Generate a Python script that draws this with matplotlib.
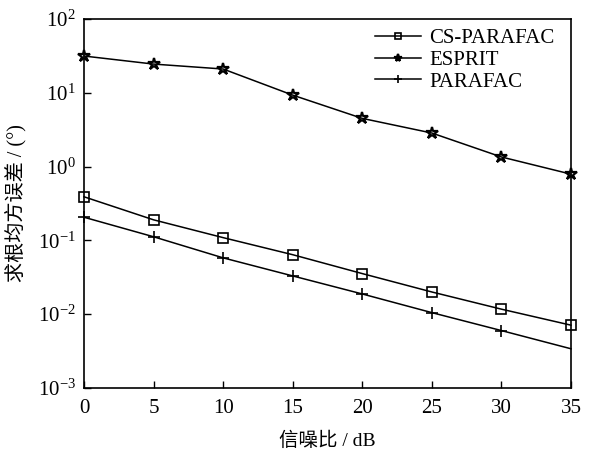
import numpy as np
import matplotlib.pyplot as plt

plt.rcParams['font.family'] = ['Liberation Serif', 'Noto Sans CJK SC']
plt.rcParams['mathtext.fontset'] = 'stix'

snr = [0, 5, 10, 15, 20, 25, 30, 35]
cs_parafac = [0.39, 0.19, 0.109, 0.064, 0.0355, 0.020, 0.0117, 0.0071]
esprit = [31.5, 24.5, 21.0, 9.3, 4.5, 2.85, 1.35, 0.79]
parafac = [0.206, 0.112, 0.058, 0.033, 0.0188, 0.0105, 0.006, 0.0034]

fig = plt.figure(figsize=(5.9, 4.57), dpi=100)
ax = fig.add_axes([84 / 590, 1 - 388 / 457, 487 / 590, 369 / 457])

ax.semilogy(snr, cs_parafac, 'k-', marker='s', ms=7, mfc='none', mew=1.2, lw=1.1,
            label='CS-PARAFAC', clip_on=False)
ax.semilogy(snr, esprit, 'k-', marker='*', ms=9, mfc='none', mew=1.6, lw=1.1,
            label='ESPRIT', clip_on=False)
ax.semilogy(snr, parafac, 'k-', marker='+', ms=9, mew=1.2, lw=1.1,
            markevery=slice(0, 7), label='PARAFAC', clip_on=False)

ax.set_xlim(0, 35)
ax.set_ylim(1e-3, 1e2)
ax.set_xticks(snr)
ax.set_yticks([1e-3, 1e-2, 1e-1, 1e0, 1e1, 1e2])
ax.minorticks_off()
ax.tick_params(direction='in', length=5, width=1.0, labelsize=15,
               top=False, right=False)
ax.tick_params(axis='x', pad=8)
ax.tick_params(axis='y', pad=6)
for s in ax.spines.values():
    s.set_linewidth(1.2)

ax.set_xlabel('信噪比 / dB', fontsize=14, labelpad=10)
ax.set_ylabel('求根均方误差 / (°)', fontsize=14.5, labelpad=8)

ax.legend(loc='upper right', bbox_to_anchor=(0.983, 0.996), frameon=False,
          fontsize=15, handlelength=2.2, markerscale=0.6, labelspacing=0.1,
          borderaxespad=0.0, handletextpad=0.4)

fig.savefig('out.png', dpi=100)
